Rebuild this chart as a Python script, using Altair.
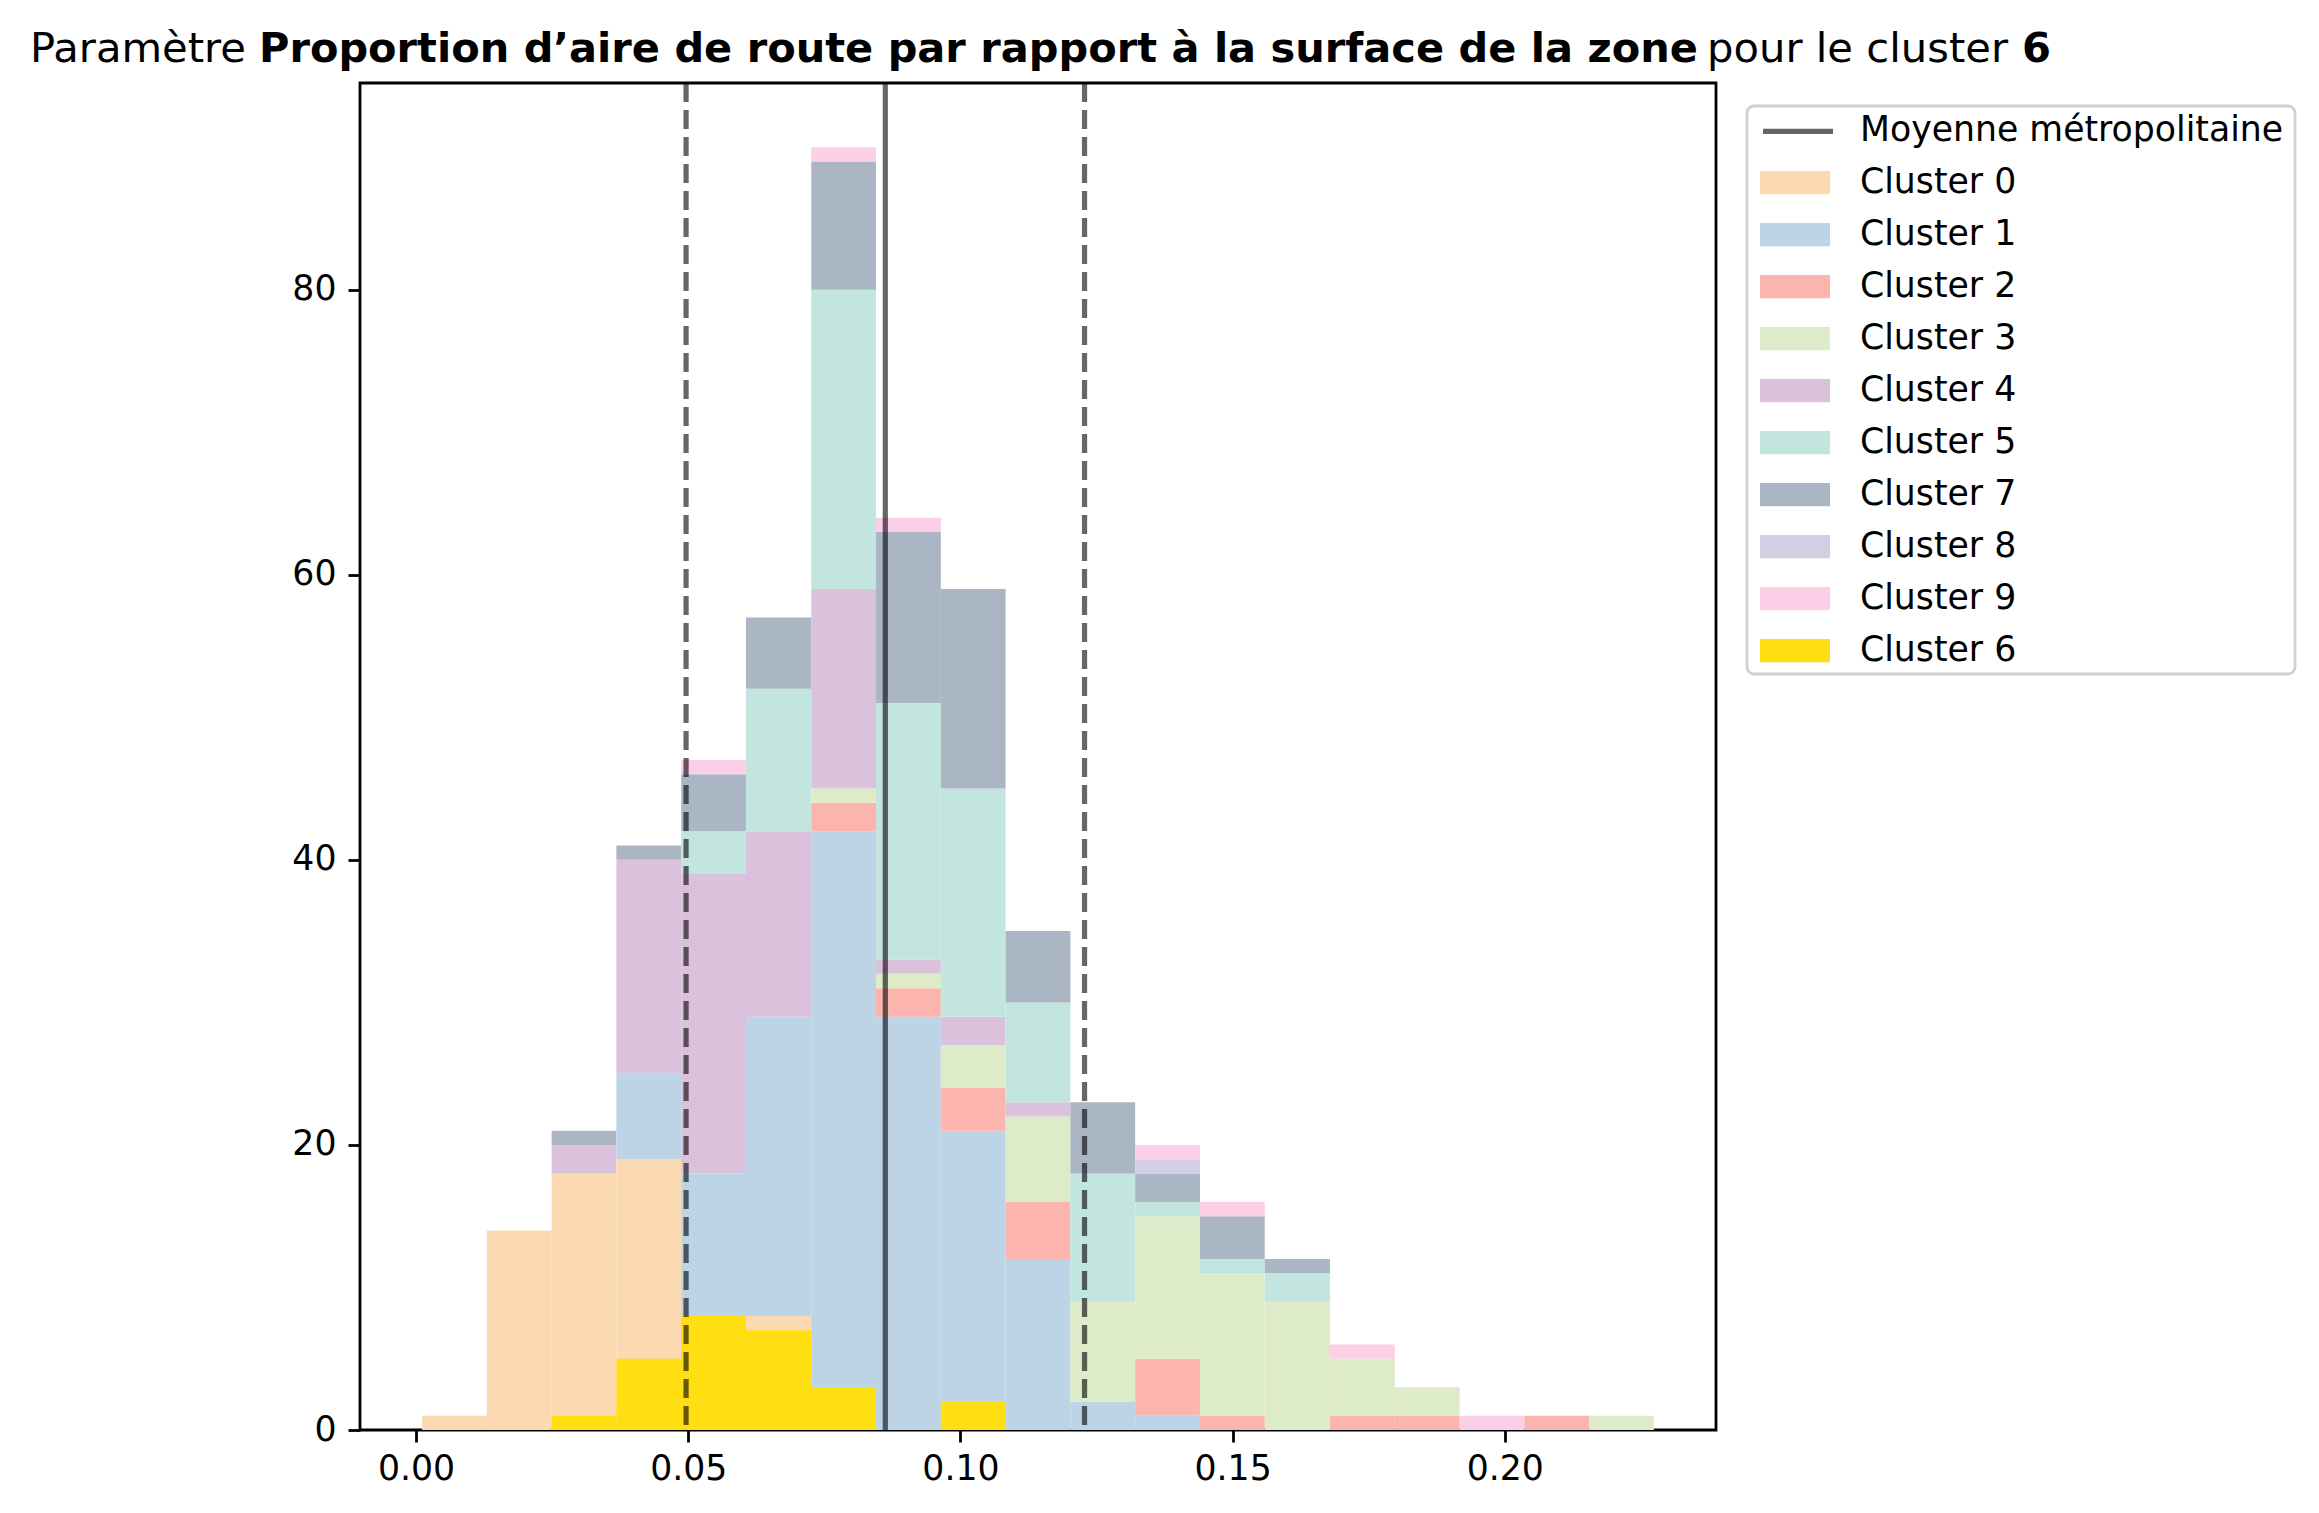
import altair as alt
import pandas as pd

# ---------------- data ----------------
bin_edges = [0.0011, 0.0130, 0.0249, 0.0368, 0.0487, 0.0606, 0.0726, 0.0845, 0.0964,
             0.1083, 0.1202, 0.1321, 0.1440, 0.1559, 0.1679, 0.1798, 0.1917, 0.2036,
             0.2155, 0.2274]

stack_clusters = ["Cluster 0", "Cluster 1", "Cluster 2", "Cluster 3", "Cluster 4",
                  "Cluster 5", "Cluster 7", "Cluster 8", "Cluster 9"]
c0 = [1, 14, 18, 19, 6, 8, 2, 0, 0, 0, 0, 0, 0, 0, 0, 0, 0, 0, 0]
c1 = [0, 0, 0, 6, 12, 21, 40, 29, 21, 12, 2, 1, 0, 0, 0, 0, 0, 0, 0]
c2 = [0, 0, 0, 0, 0, 0, 2, 2, 3, 4, 0, 4, 1, 0, 1, 1, 0, 1, 0]
c3 = [0, 0, 0, 0, 0, 0, 1, 1, 3, 6, 7, 10, 10, 9, 4, 2, 0, 0, 1]
c4 = [0, 0, 2, 15, 21, 13, 14, 1, 2, 1, 0, 0, 0, 0, 0, 0, 0, 0, 0]
c5 = [0, 0, 0, 0, 3, 10, 21, 18, 16, 7, 9, 1, 1, 2, 0, 0, 0, 0, 0]
c7 = [0, 0, 1, 1, 4, 5, 9, 12, 14, 5, 5, 2, 3, 1, 0, 0, 0, 0, 0]
c8 = [0, 0, 0, 0, 0, 0, 0, 0, 0, 0, 0, 1, 0, 0, 0, 0, 0, 0, 0]
c9 = [0, 0, 0, 0, 1, 0, 1, 1, 0, 0, 0, 1, 1, 0, 1, 0, 1, 0, 0]
c6 = [0, 0, 1, 5, 8, 7, 3, 0, 2, 0, 0, 0, 0, 0, 0, 0, 0, 0, 0]
stack_counts = [c0, c1, c2, c3, c4, c5, c7, c8, c9]

mean_value = 0.0862
std_low = 0.0496
std_high = 0.1228

legend_order = stack_clusters + ["Cluster 6"]
legend_colors = ["#FBD9B1", "#BDD4E7", "#FBB5AE", "#DEEBC8", "#DAC2DC",
                 "#C2E6DF", "#ABB6C5", "#D3CEE3", "#FBCFE5", "#FFDF12"]

# ---------------- tables ----------------
rows = []
nb = len(bin_edges) - 1
for i in range(nb):
    base = 0
    for name, counts in zip(stack_clusters, stack_counts):
        v = counts[i]
        if v > 0:
            rows.append({"cluster": name, "x0": bin_edges[i], "x1": bin_edges[i + 1],
                         "y0": base, "y1": base + v})
        base += v
stack_df = pd.DataFrame(rows)

rows6 = [{"cluster": "Cluster 6", "x0": bin_edges[i], "x1": bin_edges[i + 1],
          "y0": 0, "y1": c6[i]} for i in range(nb) if c6[i] > 0]
c6_df = pd.DataFrame(rows6)

mean_df = pd.DataFrame({"v": [mean_value], "label": ["Moyenne métropolitaine"]})
std_df = pd.DataFrame({"v": [std_low, std_high]})

FS = 34.7
X_DOMAIN = [-0.0103, 0.2388]
Y_DOMAIN = [0, 94.5]

color_scale = alt.Scale(domain=legend_order, range=legend_colors)
xs = alt.Scale(domain=X_DOMAIN, nice=False, zero=False)
ys = alt.Scale(domain=Y_DOMAIN, nice=False)

x_axis = alt.Axis(values=[0.0, 0.05, 0.10, 0.15, 0.20], format=".2f", title=None,
                  grid=False, domain=False, tickSize=12, tickWidth=2.8, tickColor="black",
                  labelFontSize=FS, labelColor="black", labelPadding=10, labelFlush=False)
y_axis = alt.Axis(values=[0, 20, 40, 60, 80], title=None, grid=False, domain=False,
                  tickSize=12, tickWidth=2.8, tickColor="black", labelFontSize=FS,
                  labelColor="black", labelPadding=12)

fill_legend = alt.Legend(orient="none", legendX=1400, legendY=64.6, title=None,
                         symbolType="M-1,-0.33H1V0.33H-1Z", symbolSize=4900,
                         symbolStrokeWidth=0, symbolOpacity=1, labelFontSize=FS,
                         labelColor="black", labelOffset=30, rowPadding=-1.1, padding=0,
                         labelLimit=0)

bars = alt.Chart(stack_df).mark_bar(stroke=None, opacity=1).encode(
    x=alt.X("x0:Q", scale=xs, axis=x_axis),
    x2="x1:Q",
    y=alt.Y("y0:Q", scale=ys, axis=y_axis),
    y2="y1:Q",
    color=alt.Color("cluster:N", scale=color_scale, legend=fill_legend),
)

bars6 = alt.Chart(c6_df).mark_bar(stroke=None, opacity=1).encode(
    x=alt.X("x0:Q", scale=xs),
    x2="x1:Q",
    y=alt.Y("y0:Q", scale=ys),
    y2="y1:Q",
    color=alt.Color("cluster:N", scale=color_scale, legend=fill_legend),
)

mean_rule = alt.Chart(mean_df).mark_rule(strokeWidth=5.2, opacity=0.6).encode(
    x=alt.X("v:Q", scale=xs),
    stroke=alt.Stroke("label:N",
                      scale=alt.Scale(domain=["Moyenne métropolitaine"], range=["black"]),
                      legend=alt.Legend(orient="none", legendX=1400, legendY=10.3,
                                        title=None, symbolType="stroke", symbolSize=4900,
                                        symbolStrokeWidth=5.2, labelFontSize=FS,
                                        labelColor="black", labelOffset=24, padding=0,
                                        labelLimit=0)),
)

std_rules = alt.Chart(std_df).mark_rule(strokeWidth=5.2, opacity=0.6, color="black",
                                        strokeDash=[19, 8]).encode(
    x=alt.X("v:Q", scale=xs),
)

one = pd.DataFrame({"d": [0]})
legend_box = alt.Chart(one).mark_rect(fill="white", stroke="#d0d0d0", strokeWidth=2.8,
                                      cornerRadius=7).encode(
    x=alt.value(1387), x2=alt.value(1935), y=alt.value(23), y2=alt.value(591))

title_y = -21.3
t1 = alt.Chart(one).mark_text(text="Paramètre", align="left", baseline="alphabetic",
                              fontSize=41.7, color="black").encode(
    x=alt.value(-330), y=alt.value(title_y))
t2 = alt.Chart(one).mark_text(
    text="Proportion d\u2019aire de route par rapport à la surface de la zone",
    align="left", baseline="alphabetic", fontSize=41.5, fontWeight="bold",
    color="black").encode(x=alt.value(-101), y=alt.value(title_y))
t3 = alt.Chart(one).mark_text(text="pour le cluster", align="left", baseline="alphabetic",
                              fontSize=41.7, color="black").encode(
    x=alt.value(1347), y=alt.value(title_y))
t4 = alt.Chart(one).mark_text(text="6", align="left", baseline="alphabetic",
                              fontSize=41.7, fontWeight="bold", color="black").encode(
    x=alt.value(1662), y=alt.value(title_y))

chart = alt.layer(legend_box, bars, bars6, std_rules, mean_rule, t1, t2, t3, t4).properties(
    width=1356, height=1347,
    autosize=alt.AutoSizeParams(type="none"),
    padding={"left": 352, "top": 75, "right": 590, "bottom": 75},
).configure(font="DejaVu Sans").configure_view(
    stroke="black", strokeWidth=2.8
)

chart.save("out.html", embed_options={"renderer": "svg", "actions": False})
